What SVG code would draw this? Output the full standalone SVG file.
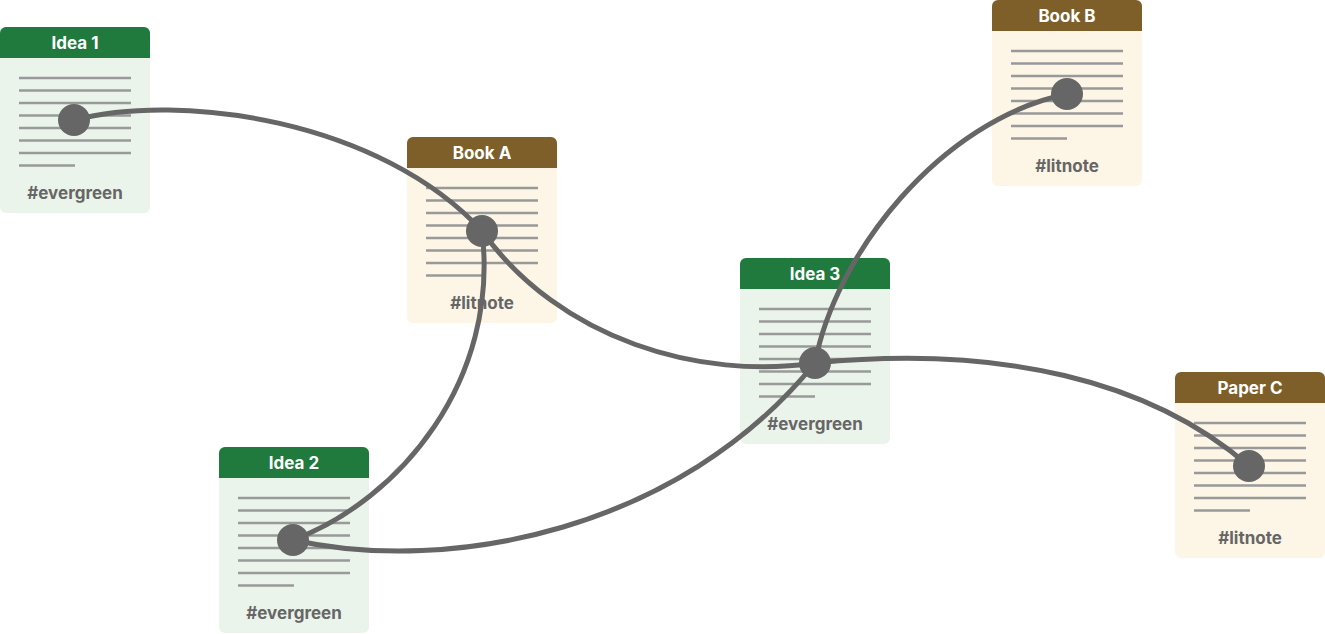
<svg xmlns="http://www.w3.org/2000/svg" width="1325" height="634" viewBox="0 0 1325 634">
<style>
.hdr{font-family:Inter,"Liberation Sans",sans-serif;font-weight:700;font-size:17px;fill:#fff;text-anchor:middle}
.tag{font-family:Inter,"Liberation Sans",sans-serif;font-weight:700;font-size:17px;fill:#666;text-anchor:middle}
.ln{stroke:#999;stroke-width:2.5}
.g .body{fill:#ebf4ea}.g .head{fill:#207a3d}
.b .body{fill:#fdf6e6}.b .head{fill:#7f5f29}
.edge{fill:none;stroke:#666;stroke-width:5;stroke-linecap:round}
.dot{fill:#666}
</style>
<defs>
<g id="lines">
<path class="ln" d="M19,51H131M19,63.5H131M19,76H131M19,88.5H131M19,101H131M19,113.5H131M19,126H131M19,138.5H75"/>
</g>
<clipPath id="hc"><rect x="0" y="0" width="150" height="186" rx="6"/></clipPath>
</defs>
<g id="idea1" class="g" transform="translate(0,27)">
<rect class="body" width="150" height="186" rx="6"/>
<rect class="head" width="150" height="31" clip-path="url(#hc)"/>
<text class="hdr" x="75" y="22">Idea 1</text>
<use href="#lines"/>
<text class="tag" x="75" y="172">#evergreen</text>
</g>
<g id="bookA" class="b" transform="translate(407,137)">
<rect class="body" width="150" height="186" rx="6"/>
<rect class="head" width="150" height="31" clip-path="url(#hc)"/>
<text class="hdr" x="75" y="22">Book A</text>
<use href="#lines"/>
<text class="tag" x="75" y="172">#litnote</text>
</g>
<g id="idea3" class="g" transform="translate(740,258)">
<rect class="body" width="150" height="186" rx="6"/>
<rect class="head" width="150" height="31" clip-path="url(#hc)"/>
<text class="hdr" x="75" y="22">Idea 3</text>
<use href="#lines"/>
<text class="tag" x="75" y="172">#evergreen</text>
</g>
<g id="bookB" class="b" transform="translate(992,0)">
<rect class="body" width="150" height="186" rx="6"/>
<rect class="head" width="150" height="31" clip-path="url(#hc)"/>
<text class="hdr" x="75" y="22">Book B</text>
<use href="#lines"/>
<text class="tag" x="75" y="172">#litnote</text>
</g>
<g id="paperC" class="b" transform="translate(1175,372)">
<rect class="body" width="150" height="186" rx="6"/>
<rect class="head" width="150" height="31" clip-path="url(#hc)"/>
<text class="hdr" x="75" y="22">Paper C</text>
<use href="#lines"/>
<text class="tag" x="75" y="172">#litnote</text>
</g>
<g id="idea2" class="g" transform="translate(219,447)">
<rect class="body" width="150" height="186" rx="6"/>
<rect class="head" width="150" height="31" clip-path="url(#hc)"/>
<text class="hdr" x="75" y="22">Idea 2</text>
<use href="#lines"/>
<text class="tag" x="75" y="172">#evergreen</text>
</g>
<g id="connectors">
<path class="edge" d="M74,120 C180,92 380,120 482,231"/>
<path class="edge" d="M482,231 C560,340 700,380 815,363"/>
<path class="edge" d="M482,231 C500,380 400,500 293,540"/>
<path class="edge" d="M293,540 C450,575 680,530 815,363"/>
<path class="edge" d="M815,363 C835,255 940,120 1067,94"/>
<path class="edge" d="M815,363 C1000,345 1150,380 1249,466"/>
<circle class="dot" cx="74" cy="120" r="16"/>
<circle class="dot" cx="482" cy="231" r="16"/>
<circle class="dot" cx="815" cy="363" r="16"/>
<circle class="dot" cx="1067" cy="94" r="16"/>
<circle class="dot" cx="1249" cy="466" r="16"/>
<circle class="dot" cx="293" cy="540" r="16"/>
</g>
</svg>
